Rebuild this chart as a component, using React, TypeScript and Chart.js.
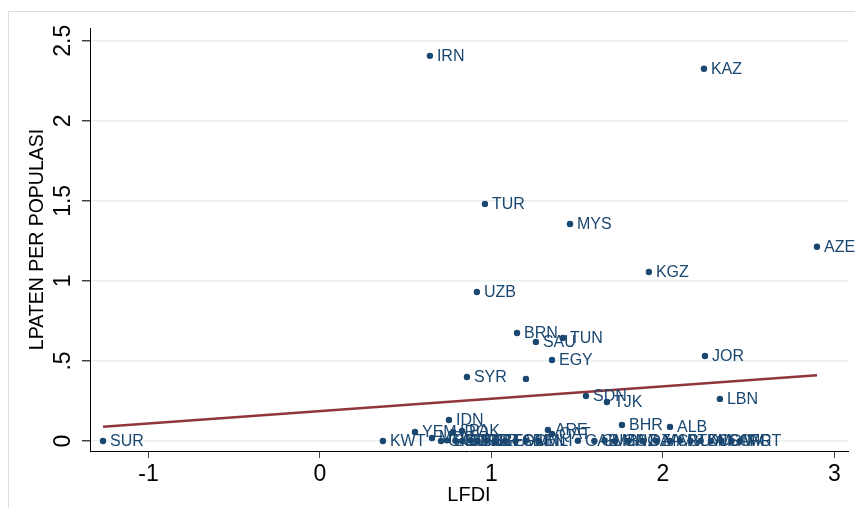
import React, { useEffect, useRef } from "react";
import { Chart, registerables } from "chart.js";

Chart.register(...registerables);

const countries = [
  "IRN", "KAZ", "TUR", "MYS", "AZE", "KGZ", "UZB", "BRN", "SAU", "TUN", "EGY", "JOR", "SYR", "",
  "SDN", "TJK", "LBN", "IDN", "BHR", "ALB", "ARE", "QAT", "YEM", "MDV", "IRQ", "PAK", "KWT", "SUR",
  "GIN", "BGD", "CMR", "SEN", "TCD", "NER", "SLE", "BFA", "TGO", "OMN", "BEN", "MLI",
  "GAB", "GMB", "UGA", "MOZ", "NGA", "DZA", "MAR", "CIV", "GUY", "TKM", "DJI", "COM", "SOM", "AFG", "MRT",
];
const lfdi = [
  0.641, 2.239, 0.962, 1.458, 2.898, 1.918, 0.915, 1.149, 1.259, 1.417, 1.353, 2.245, 0.857, 1.201,
  1.551, 1.673, 2.332, 0.752, 1.761, 2.041, 1.329, 1.353, 0.554, 0.653, 0.776, 0.828, 0.367, -1.265,
  0.706, 0.74, 0.79, 0.83, 0.88, 0.92, 0.97, 1.02, 1.08, 1.14, 1.2, 1.277,
  1.504, 1.6, 1.66, 1.72, 1.8, 1.88, 1.96, 2.04, 2.1, 2.16, 2.22, 2.28, 2.34, 2.4, 2.449,
];
const lpaten = [
  2.406, 2.325, 1.481, 1.356, 1.213, 1.056, 0.931, 0.675, 0.619, 0.644, 0.506, 0.531, 0.4, 0.388,
  0.281, 0.244, 0.263, 0.131, 0.1, 0.088, 0.069, 0.044, 0.056, 0.019, 0.056, 0.063, 0.0, 0.0,
  0.0, 0.004, 0.002, 0.0, 0.003, 0.0, 0.002, 0.0, 0.001, 0.0, 0.002, 0.0,
  0.002, 0.0, 0.003, 0.0, 0.001, 0.0, 0.002, 0.0, 0.003, 0.0, 0.001, 0.0, 0.002, 0.0, 0.0,
];
const fitX = [-1.265, 2.898];
const fitY = [0.089, 0.411];
const xTicks = [-1, 0, 1, 2, 3];
const yTicks = [0, 0.5, 1, 1.5, 2, 2.5];
const yTickLabels = ["0", ".5", "1", "1.5", "2", "2.5"];

const FONT = "'Liberation Sans', Arial, sans-serif";
const NAVY = "#1a476f";

const labelPlugin = {
  id: "pointLabels",
  afterDatasetsDraw(chart: any) {
    const ctx = chart.ctx;
    const meta = chart.getDatasetMeta(0);
    ctx.save();
    ctx.font = `16px ${FONT}`;
    ctx.fillStyle = NAVY;
    ctx.textAlign = "left";
    ctx.textBaseline = "middle";
    meta.data.forEach((el: any, i: number) => {
      const t = countries[i];
      if (t) ctx.fillText(t, el.x + 7, el.y + 1);
    });
    ctx.restore();
  },
};

const yLabelPlugin = {
  id: "yTickLabels",
  afterDraw(chart: any) {
    const ctx = chart.ctx;
    const ys = chart.scales.y;
    ctx.save();
    ctx.font = `23px ${FONT}`;
    ctx.fillStyle = "#000";
    ctx.textAlign = "center";
    ctx.textBaseline = "middle";
    yTicks.forEach((v, i) => {
      const py = ys.getPixelForValue(v);
      ctx.save();
      ctx.translate(64, py);
      ctx.rotate(-Math.PI / 2);
      ctx.fillText(yTickLabels[i], 0, 0);
      ctx.restore();
    });
    ctx.restore();
  },
};

export default function App() {
  const ref = useRef<HTMLCanvasElement | null>(null);
  useEffect(() => {
    if (!ref.current) return;
    const chart = new Chart(ref.current, {
      type: "scatter",
      data: {
        datasets: [
          {
            type: "scatter",
            data: lfdi.map((x, i) => ({ x, y: lpaten[i] })),
            backgroundColor: NAVY,
            borderColor: NAVY,
            pointRadius: 3.2,
            pointBorderWidth: 0,
            order: 1,
          },
          {
            type: "line",
            data: fitX.map((x, i) => ({ x, y: fitY[i] })),
            borderColor: "#90353b",
            borderWidth: 2.6,
            pointRadius: 0,
            fill: false,
            order: 2,
          } as any,
        ],
      },
      options: {
        animation: false,
        responsive: false,
        maintainAspectRatio: false,
        layout: { padding: { left: 0, right: 7, top: 28, bottom: 0 } },
        plugins: { legend: { display: false }, tooltip: { enabled: false } },
        scales: {
          x: {
            type: "linear",
            min: -1.341,
            max: 3.079,
            afterFit: (s: any) => { s.height = 57; },
            afterBuildTicks: (s: any) => { s.ticks = xTicks.map((v) => ({ value: v })); },
            ticks: {
              includeBounds: false,
              font: { size: 23, family: FONT },
              color: "#000",
              padding: 3,
              maxRotation: 0,
              autoSkip: false,
            },
            grid: { drawOnChartArea: false, drawTicks: true, tickLength: 7, tickColor: "#444" },
            border: { color: "#000", width: 1 },
            title: {
              display: true,
              text: "LFDI",
              font: { size: 20, family: FONT },
              color: "#000",
              padding: { top: 0, bottom: 1 },
            },
          },
          y: {
            type: "linear",
            min: -0.0625,
            max: 2.58,
            afterFit: (s: any) => { s.width = 90; },
            afterBuildTicks: (s: any) => { s.ticks = yTicks.map((v) => ({ value: v })); },
            ticks: { display: false, includeBounds: false },
            grid: { color: "#e8f0f2", lineWidth: 1.5, drawTicks: true, tickLength: 8, tickColor: "#444" },
            border: { color: "#000", width: 1 },
            title: {
              display: true,
              text: "LPATEN PER POPULASI",
              font: { size: 19.5, family: FONT },
              color: "#000",
              padding: { top: 26, bottom: 0 },
            },
          },
        },
      },
      plugins: [labelPlugin, yLabelPlugin],
    } as any);
    return () => chart.destroy();
  }, []);
  return (
    <div>
      <div
        style={{
          position: "fixed",
          left: 8,
          top: 11,
          width: 847,
          height: 497,
          borderTop: "1px solid #dcdcdc",
          borderLeft: "1px solid #dcdcdc",
          boxSizing: "border-box",
        }}
      />
      <canvas
        ref={ref}
        width={855}
        height={508}
        style={{ position: "fixed", left: 0, top: 0, width: 855, height: 508 }}
      />
    </div>
  );
}
